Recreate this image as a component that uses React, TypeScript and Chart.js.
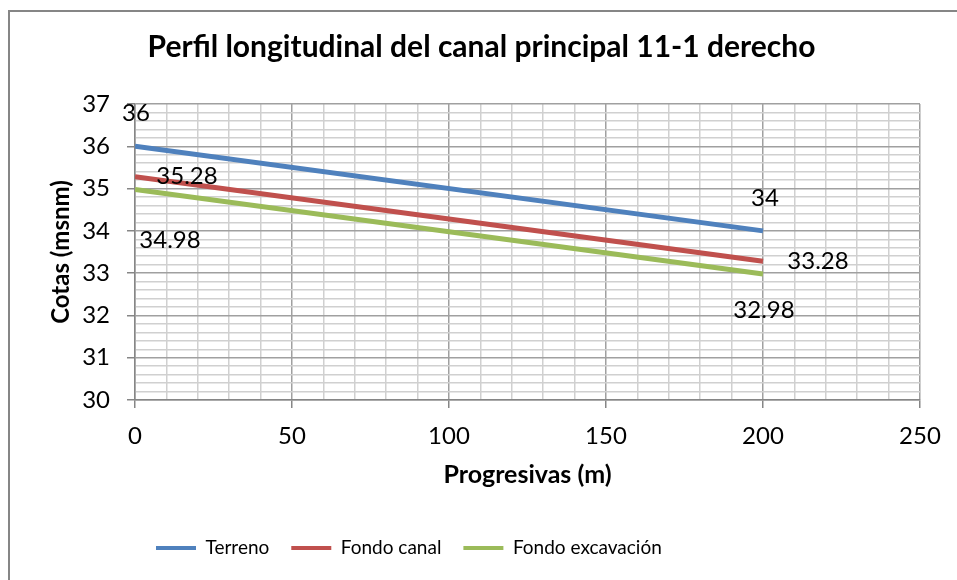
import React, { useEffect, useRef } from "react";
import { Chart, registerables } from "chart.js";

Chart.register(...registerables);

const progresivas = [0, 200];
const terreno = [36, 34];
const fondoCanal = [35.28, 33.28];
const fondoExcavacion = [34.98, 32.98];
const seriesNames = ["Terreno", "Fondo canal", "Fondo excavación"];
const seriesColors = ["#4F81BD", "#C0504D", "#9BBB59"];
const xTicksMajor = 50;
const yTicksMajor = 1;
const yAxisTitle = "Cotas (msnm)";

const FONT = "Lato, 'Liberation Sans', sans-serif";

// label offsets (pixels) for the data labels at first and last point
const labelOffsets = [
  [[1, -33], [2, -33]],
  [[52, 0], [55, 0]],
  [[35, 51], [1, 36]],
];

const framePlugin = {
  id: "frame",
  beforeDraw(chart: any) {
    const { ctx, width, height } = chart;
    ctx.save();
    ctx.fillStyle = "#fff";
    ctx.fillRect(0, 0, width, height);
    ctx.strokeStyle = "#868686";
    ctx.lineWidth = 2;
    ctx.beginPath();
    ctx.moveTo(9, height);
    ctx.lineTo(9, 11);
    ctx.lineTo(width, 11);
    ctx.stroke();
    ctx.restore();
  },
  afterDraw(chart: any) {
    const { ctx, chartArea } = chart;
    ctx.save();
    ctx.translate(61, (chartArea.top + chartArea.bottom) / 2);
    ctx.rotate(-Math.PI / 2);
    ctx.font = `bold 24px ${FONT}`;
    ctx.fillStyle = "#000";
    ctx.textAlign = "center";
    ctx.textBaseline = "middle";
    ctx.fillText(yAxisTitle, 0, 0);
    ctx.restore();
  },
};

const legendShiftPlugin = {
  id: "legendShift",
  afterLayout(chart: any) {
    const lg = chart.legend;
    if (lg) {
      const pad = lg.options.labels.padding;
      const w = lg.right - lg.left;
      lg.left = 156 - pad;
      lg.right = lg.left + w;
    }
  },
};

const dataLabelPlugin = {
  id: "dataLabels",
  afterDatasetsDraw(chart: any) {
    const { ctx } = chart;
    ctx.save();
    ctx.font = `24px ${FONT}`;
    ctx.fillStyle = "#000";
    ctx.textAlign = "center";
    ctx.textBaseline = "middle";
    chart.data.datasets.forEach((ds: any, di: number) => {
      const meta = chart.getDatasetMeta(di);
      const last = meta.data.length - 1;
      [0, last].forEach((idx, k) => {
        const el = meta.data[idx];
        const [dx, dy] = labelOffsets[di][k];
        ctx.fillText(String(ds.data[idx].y), el.x + dx, el.y + dy);
      });
    });
    ctx.restore();
  },
};

const isMultiple = (v: number, m: number) =>
  Math.abs(v / m - Math.round(v / m)) < 1e-6;

export default function App() {
  const ref = useRef<HTMLCanvasElement>(null);
  useEffect(() => {
    if (!ref.current) return;
    const series = [terreno, fondoCanal, fondoExcavacion];
    const chart = new Chart(ref.current, {
      type: "line",
      data: {
        datasets: series.map((vals, i) => ({
          label: seriesNames[i],
          data: progresivas.map((x, j) => ({ x, y: vals[j] })),
          borderColor: seriesColors[i],
          backgroundColor: seriesColors[i],
          borderWidth: 5,
          pointRadius: 0,
          tension: 0,
        })),
      },
      options: {
        responsive: false,
        animation: false,
        devicePixelRatio: 1,
        layout: { padding: { left: 43, right: 37, top: 0, bottom: 12.5 } },
        plugins: {
          title: {
            display: true,
            text: "Perfil longitudinal del canal principal 11-1 derecho",
            color: "#000",
            font: { family: FONT, size: 30, weight: "bold" },
            padding: { top: 29, bottom: 39 },
          },
          legend: {
            position: "bottom",
            align: "start",
            labels: {
              color: "#000",
              font: { family: FONT, size: 19 },
              boxWidth: 40,
              boxHeight: 4,
              padding: 22,
              generateLabels: (c: any) =>
                Chart.defaults.plugins.legend.labels
                  .generateLabels(c)
                  .map((l: any) => ({ ...l, lineWidth: 0 })),
            },
          },
          tooltip: { enabled: false },
        },
        scales: {
          x: {
            type: "linear",
            min: 0,
            max: 250,
            afterFit: (s: any) => {
              s.height = 116.5;
            },
            ticks: {
              stepSize: 10,
              autoSkip: false,
              maxRotation: 0,
              color: "#000",
              font: { family: FONT, size: 24 },
              padding: 14,
              callback: (v: any) =>
                isMultiple(Number(v), xTicksMajor) ? String(v) : "",
            },
            grid: {
              color: (c: any) =>
                isMultiple(c.tick.value, xTicksMajor) ? "#a0a0a0" : "#d0d0d0",
              tickColor: (c: any) =>
                isMultiple(c.tick.value, xTicksMajor) ? "#868686" : "rgba(0,0,0,0)",
              tickLength: 8,
              lineWidth: 1.5,
            },
            border: { color: "#868686", width: 1.5 },
            title: {
              display: true,
              text: "Progresivas (m)",
              color: "#000",
              font: { family: FONT, size: 25, weight: "bold" },
              padding: { top: 4, bottom: 27 },
            },
          },
          y: {
            min: 30,
            max: 37,
            afterFit: (s: any) => {
              s.width = 92;
            },
            ticks: {
              stepSize: 0.2,
              autoSkip: false,
              color: "#000",
              font: { family: FONT, size: 24 },
              padding: 17,
              callback: (v: any) =>
                isMultiple(Number(v), yTicksMajor) ? String(Math.round(Number(v))) : "",
            },
            grid: {
              color: (c: any) =>
                isMultiple(c.tick.value, yTicksMajor) ? "#a0a0a0" : "#d0d0d0",
              tickColor: (c: any) =>
                isMultiple(c.tick.value, yTicksMajor) ? "#868686" : "rgba(0,0,0,0)",
              tickLength: 8,
              lineWidth: 1.5,
            },
            border: { color: "#868686", width: 1.5 },
            title: { display: false },
          },
        },
      },
      plugins: [framePlugin, legendShiftPlugin, dataLabelPlugin],
    } as any);
    return () => chart.destroy();
  }, []);
  return (
    <div style={{ position: "absolute", left: 0, top: 0, width: 957, height: 580 }}>
      <canvas ref={ref} width={957} height={580} style={{ display: "block" }} />
    </div>
  );
}
